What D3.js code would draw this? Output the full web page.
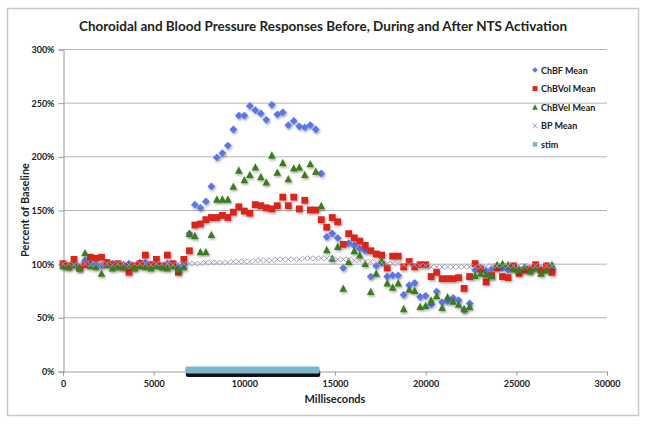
<!DOCTYPE html>
<html>
<head>
<meta charset="utf-8">
<script src="https://cdn.jsdelivr.net/npm/d3@7"></script>
<style>
  body { margin: 0; background: #fff; }
  text { font-family: Lato, "Open Sans", sans-serif; fill: #222; }
</style>
</head>
<body>
<div id="chart"></div>
<script>
// sample times (ms), one every ~303 ms
var times = [0,303,606,909,1212,1515,1818,2121,2424,2727,3030,3333,3636,3939,4242,4545,4848,5151,5454,5757,
  6060,6363,6666,6969,7272,7575,7878,8181,8484,8787,9090,9393,9696,9999,10302,10605,10908,11211,11514,11817,
  12120,12423,12726,13029,13332,13635,13938,14241,14544,14847,15150,15453,15756,16059,16362,16665,16968,17271,17574,17877,
  18180,18483,18786,19089,19392,19695,19998,20301,20604,20907,21210,21513,21816,22119,22422,22725,23028,23331,23634,23937,
  24240,24543,24846,25149,25452,25755,26058,26361,26664,26967];

var chbfMean = [99,98,100,97,103,100,99,98,101,100,97,99,100,98,101,101,99,100,98,100,99,97,99,
  128,155,152,158,172,199,203,210,225,238,238,247,243,240,234,248,239,241,229,233,228,227,229,225,
  184,125,128,124,96,119,117,114,112,88,98,101,88,89,89,71,80,82,69,70,62,74,64,65,68,66,57,63,
  94,96,93,95,97,96,94,97,95,96,94,97,95,96,95];

var chbvolMean = [100,98,104,96,99,106,105,106,101,99,100,97,92,98,100,108,99,104,98,108,100,92,104,
  112,136,137,141,143,143,145,143,148,153,149,147,155,154,152,151,154,162,154,162,151,159,150,150,
  141,134,143,139,118,128,124,121,117,112,109,108,96,107,107,97,102,97,99,99,88,92,86,86,86,87,77,88,
  100,95,83,89,96,88,87,98,91,94,95,99,94,98,92];

var chbvelMean = [98,97,99,96,110,98,97,91,99,96,98,97,99,96,98,97,96,98,97,96,98,95,97,
  128,126,111,111,127,160,160,160,172,187,178,183,190,181,176,201,185,194,179,189,190,183,193,186,
  154,113,105,116,77,102,112,108,100,74,91,103,82,78,82,58,76,75,60,61,66,70,59,69,65,62,58,60,
  89,91,90,89,99,100,99,95,94,97,93,96,91,94,99];

var bpMean = [100,100,99,100,100,99,100,100,100,99,100,100,99,100,100,100,99,100,100,100,99,100,100,
  100,100,100,101,101,101,101,101,102,102,102,102,103,103,103,103,104,104,104,104,104,105,105,105,
  105,105,105,104,104,104,103,103,102,102,101,101,100,100,100,99,99,99,98,98,97,97,97,97,97,97,97,97,
  97,97,97,98,98,98,98,98,98,98,98,98,98,98,98];

var stimTimes = [6969,7272,7575,7878,8181,8484,8787,9090,9393,9696,9999,10302,10605,10908,11211,11514,11817,
  12120,12423,12726,13029,13332,13635,13938];
var stimValues = [0,0,0,0,0,0,0,0,0,0,0,0,0,0,0,0,0,0,0,0,0,0,0,0];

var xTicks = [0,5000,10000,15000,20000,25000,30000];
var yTicks = [0,50,100,150,200,250,300];

var width = 645, height = 424;

var svg = d3.select("#chart").append("svg")
    .attr("width", width).attr("height", height);

var defs = svg.append("defs");
var shadow = defs.append("filter").attr("id", "dropshadow")
    .attr("x", "-50%").attr("y", "-50%").attr("width", "200%").attr("height", "200%");
shadow.append("feDropShadow").attr("dx", 1).attr("dy", 1.5)
    .attr("stdDeviation", 0.8).attr("flood-color", "#000").attr("flood-opacity", 0.35);

// outer frame
svg.append("rect").attr("x", 7.5).attr("y", 8.5).attr("width", 631).attr("height", 407)
    .attr("fill", "#fff").attr("stroke", "#c8c8c8").attr("stroke-width", 1.5);

var x = d3.scaleLinear().domain([0, 30000]).range([63, 607]);
var y = d3.scaleLinear().domain([0, 300]).range([371, 49]);

// gridlines
svg.append("g").selectAll("line").data(yTicks.filter(function(d) { return d > 0; }))
    .enter().append("line")
    .attr("x1", x(0)).attr("x2", x(30000))
    .attr("y1", function(d) { return y(d) + 0.5; })
    .attr("y2", function(d) { return y(d) + 0.5; })
    .attr("stroke", "#b4b4b4").attr("stroke-width", 1);

// axes
var yAxis = svg.append("g").attr("transform", "translate(" + (x(0) + 0.5) + ",0.5)")
    .call(d3.axisLeft(y).tickValues(yTicks).tickSize(5).tickPadding(4)
          .tickFormat(function(d) { return d + "%"; }));
var xAxis = svg.append("g").attr("transform", "translate(0," + (y(0) + 0.5) + ")")
    .call(d3.axisBottom(x).tickValues(xTicks).tickSize(4).tickPadding(5).tickFormat(d3.format("d")));

[xAxis, yAxis].forEach(function(a) {
    a.select(".domain").attr("stroke", "#9a9a9a");
    a.selectAll(".tick line").attr("stroke", "#9a9a9a");
    a.selectAll(".tick text").attr("font-size", 9).attr("font-weight", "bold")
        .attr("font-family", "Lato, sans-serif").attr("fill", "#222");
});

// titles
svg.append("text").attr("x", 323).attr("y", 31).attr("text-anchor", "middle")
    .attr("font-size", 13.5).attr("font-weight", "bold")
    .text("Choroidal and Blood Pressure Responses Before, During and After NTS Activation");
svg.append("text").attr("x", 335).attr("y", 403).attr("text-anchor", "middle")
    .attr("font-size", 11).attr("font-weight", "bold").text("Milliseconds");
svg.append("text").attr("transform", "translate(29,210) rotate(-90)").attr("text-anchor", "middle")
    .attr("font-size", 11).attr("font-weight", "bold").text("Percent of Baseline");

// marker shapes
function diamond(r) { return "M0," + (-r) + "L" + r + ",0L0," + r + "L" + (-r) + ",0Z"; }
function square(s) { var h = s / 2; return "M" + (-h) + "," + (-h) + "h" + s + "v" + s + "h" + (-s) + "Z"; }
function triangle(w) { var h = w * 0.9; return "M0," + (-h / 2 - 0.5) + "L" + (w / 2) + "," + (h / 2) + "L" + (-w / 2) + "," + (h / 2) + "Z"; }
function cross(r) { return "M" + (-r) + "," + (-r) + "L" + r + "," + r + "M" + (-r) + "," + r + "L" + r + "," + (-r); }

var series = [
    {name: "ChBF Mean", values: chbfMean, path: diamond(3.9), legendPath: diamond(2.8), fill: "#5b76e4", stroke: "none"},
    {name: "ChBVol Mean", values: chbvolMean, path: square(6.8), legendPath: square(5), fill: "#d9261e", stroke: "none"},
    {name: "ChBVel Mean", values: chbvelMean, path: triangle(7.6), legendPath: triangle(5.6), fill: "#3b7d1f", stroke: "none"},
    {name: "BP Mean", values: bpMean, path: cross(2.6), legendPath: cross(2.4), fill: "none", stroke: "#a497bd"}
];

series.forEach(function(s) {
    svg.append("g").attr("filter", s.stroke === "none" ? "url(#dropshadow)" : null)
        .selectAll("path").data(s.values).enter().append("path")
        .attr("d", s.path)
        .attr("transform", function(d, i) { return "translate(" + x(times[i]) + "," + y(d) + ")"; })
        .attr("fill", s.fill).attr("stroke", s.stroke).attr("stroke-width", 1);
});

// stim markers along the axis
var stimG = svg.append("g");
stimG.selectAll("rect.sh").data(stimValues).enter().append("rect")
    .attr("x", function(d, i) { return x(stimTimes[i]) - 3.5; })
    .attr("y", function(d) { return y(d) - 1; })
    .attr("width", 8).attr("height", 7).attr("rx", 2)
    .attr("fill", "#111");
stimG.selectAll("rect.st").data(stimValues).enter().append("rect")
    .attr("x", function(d, i) { return x(stimTimes[i]) - 4; })
    .attr("y", function(d) { return y(d) - 4.5; })
    .attr("width", 8).attr("height", 7).attr("rx", 2)
    .attr("fill", "#7fb6cf");

// legend
var legendItems = series.concat([{name: "stim", legendPath: square(4.6), fill: "#7fb6cf", stroke: "none"}]);
var legend = svg.append("g").attr("transform", "translate(535,70)");
var row = legend.selectAll("g").data(legendItems).enter().append("g")
    .attr("transform", function(d, i) { return "translate(0," + (i * 18.6) + ")"; });
row.append("path").attr("d", function(d) { return d.legendPath; })
    .attr("fill", function(d) { return d.fill; })
    .attr("stroke", function(d) { return d.stroke; });
row.append("text").attr("x", 6).attr("y", 3.5)
    .attr("font-size", 9).attr("font-weight", "bold")
    .text(function(d) { return d.name; });
</script>
</body>
</html>
